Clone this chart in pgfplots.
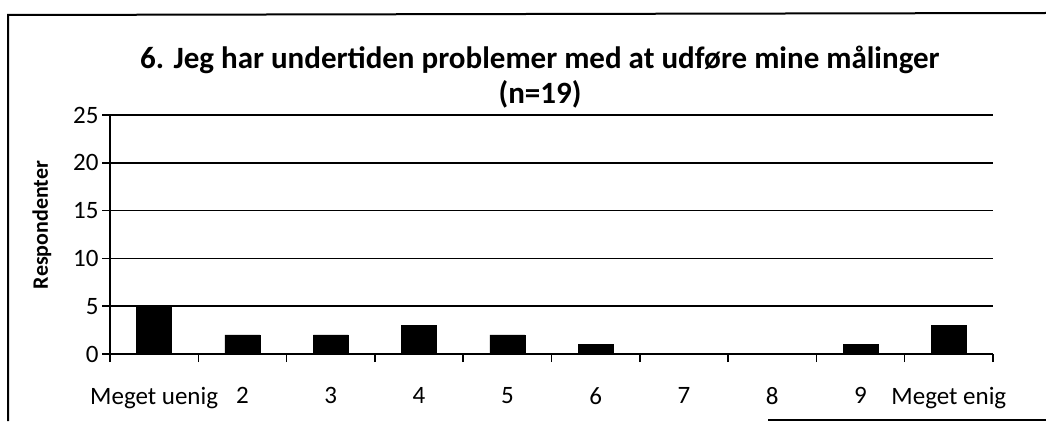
\documentclass[border=0pt]{standalone}
\usepackage{pgfplots}
\pgfplotsset{compat=1.18}
\usepackage{fontspec}
\setmainfont{Carlito}
\begin{document}
\begin{tikzpicture}[x=1pt,y=1pt]
\useasboundingbox (0,0) rectangle (1046,421);
\draw[line width=2pt] (8,0) -- (8,406) -- (1046,408);
\draw[line width=1.2pt] (768,1) -- (1046,1);
\node[font=\bfseries\fontsize{31}{35}\selectfont, align=center] at (540,344) {6. Jeg har undertiden problemer med at udføre mine målinger\\(n=19)};
\node[font=\bfseries\fontsize{22}{26}\selectfont, rotate=90] at (42,196) {Respondenter};
\begin{axis}[
  at={(110pt,67pt)}, anchor=south west,
  scale only axis, width=883pt, height=239pt,
  xmin=0.5, xmax=10.5, ymin=0, ymax=25,
  axis x line=bottom, axis y line=left,
  axis line style={-, line width=1.6pt, black},
  ytick={0,5,...,25},
  ymajorgrids, major grid style={line width=1.5pt, black},
  tick align=outside,
  major tick length=8pt,
  tick style={line width=1.5pt, black},
  xtick={0.5,1.5,...,10.5},
  xticklabels={},
  extra x ticks={1,...,10},
  extra x tick labels={Meget uenig,2,3,4,5,6,7,8,9,Meget enig},
  extra x tick style={major tick length=0pt, grid=none, tick style={draw=none},
    xticklabel style={anchor=north, yshift=-30pt}},
  ticklabel style={font=\fontsize{25}{30}\selectfont},
  /pgf/number format/assume math mode=true,
  ybar, bar width=35pt,
]
\addplot[fill=black, draw=black] coordinates {(1,5) (2,2) (3,2) (4,3) (5,2) (6,1) (7,0) (8,0) (9,1) (10,3)};
\end{axis}
\end{tikzpicture}
\end{document}
